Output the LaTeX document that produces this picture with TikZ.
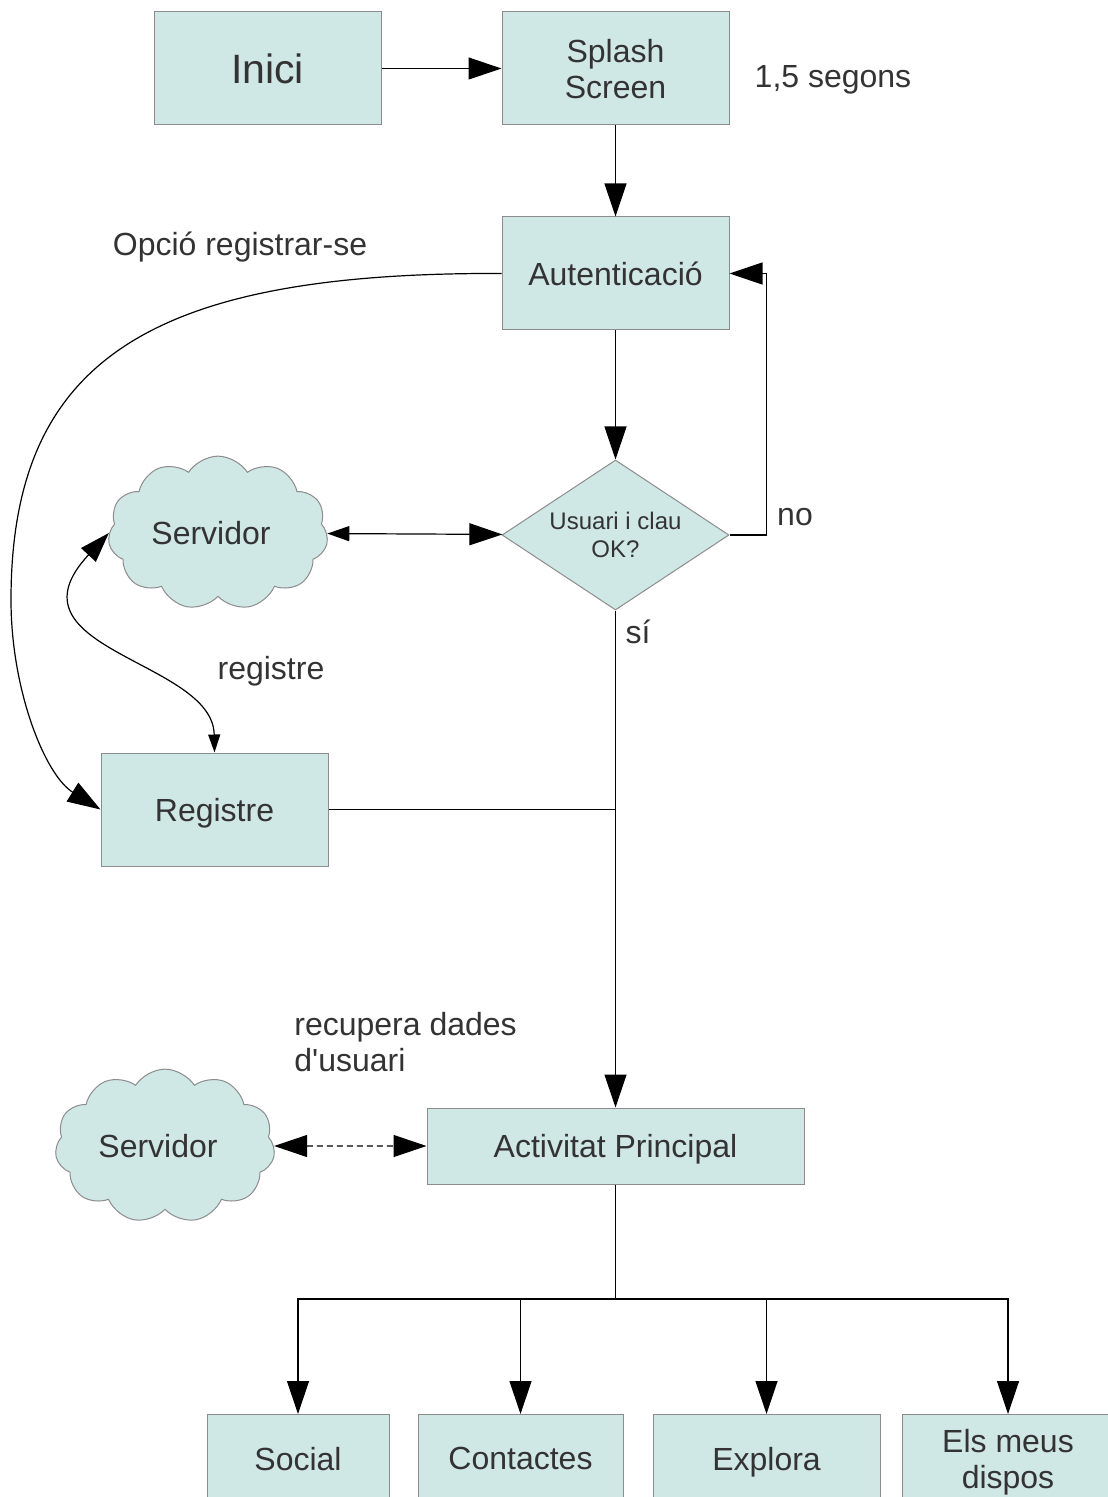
\documentclass[tikz,border=0pt]{standalone}
\usepackage{fontspec}
\setmainfont{Liberation Sans}
\usepackage{xcolor}
\definecolor{cFill}{HTML}{CFE7E5}
\definecolor{cEdge}{HTML}{8C8C8C}
\definecolor{cText}{HTML}{333333}
\usetikzlibrary{positioning,arrows.meta,shapes.geometric,shapes.symbols}
\tikzset{
  node-box/.style={draw=cEdge,fill=cFill,line width=0.5pt,inner sep=0pt,
    minimum width=113.5pt,minimum height=56.5pt,align=center,text=cText,
    text depth=0pt,font=\fontsize{16}{18}\selectfont},
  node-cloud/.style={cloud,cloud puffs=11,cloud puff arc=115,aspect=1.45,
    draw=cEdge,fill=cFill,line width=0.5pt,inner sep=0pt,
    minimum width=110pt,minimum height=76pt,text=cText,
    font=\fontsize{16}{18}\selectfont},
  node-dec/.style={diamond,aspect=1.51,draw=cEdge,fill=cFill,line width=0.5pt,
    inner sep=0pt,minimum width=113.5pt,minimum height=75pt,align=center,
    text=cText,font=\fontsize{12}{14}\selectfont},
  label-text/.style={text=cText,inner sep=0pt,align=left,
    font=\fontsize{16}{18}\selectfont},
  arrow/.style={-{Triangle[length=16.5pt,width=11pt]},line width=0.6pt},
  arrow-both/.style={{Triangle[length=16.5pt,width=11pt]}-{Triangle[length=16.5pt,width=11pt]},
    line width=0.6pt},
}

\begin{document}
\begin{tikzpicture}[x=0.5pt,y=-0.5pt,node distance=45.5pt and 60pt]
  \useasboundingbox (0,0) rectangle (1107,1497);
  % fil principal
  \node[node-box,font=\fontsize{20.5}{22}\selectfont] (inici) at (267.5,68.5) {Inici};
  \node[node-box,right=of inici] (splash) {Splash\\Screen};
  \node[node-box,below=of splash] (aut) {Autenticació};
  \node[node-dec,below=64.5pt of aut] (ok) {Usuari i clau\\OK?};
  \node[node-box] (reg) at (214.5,809.5) {Registre};
  \node[node-cloud] (srv1) at (218,533) {Servidor\hspace*{7pt}};
  \node[node-cloud] (srv2) at (165,1146) {Servidor\hspace*{7pt}};
  \node[node-box,minimum width=188.5pt,minimum height=38pt] (act) at (615.5,1146)
    {Activitat Principal};
  % pantalles finals
  \node[node-box,anchor=north,minimum width=91pt,minimum height=44pt]
    (social) at (298,1414) {Social};
  \node[node-box,anchor=north,minimum width=102.5pt,minimum height=44pt]
    (cont) at (520.5,1414) {Contactes};
  \node[node-box,anchor=north,minimum width=113.5pt,minimum height=44pt]
    (expl) at (766.5,1414) {Explora};
  \node[node-box,anchor=north,minimum width=106pt,minimum height=44pt]
    (dispos) at (1008,1414) {Els meus\\dispos};
  % etiquetes
  \node[label-text] (lbl-temps) at (833,80) {1,5 segons};
  \node[label-text] (lbl-opcio) at (240,247) {Opció registrar-se};
  \node[label-text] (lbl-reg) at (271,671) {registre};
  \node[label-text] (lbl-no) at (795,517) {no};
  \node[label-text] (lbl-si) at (638,632) {sí};
  \node[label-text,anchor=west] (lbl-dades) at (294,1042)
    {recupera dades\\d\textquotesingle usuari};
  % connexions
  \draw[arrow] (inici) -- (splash);
  \draw[arrow] (splash) -- (aut);
  \draw[arrow] (aut) -- (ok);
  \draw[arrow] (ok.east) -- ++(37,0) |- (aut.east);
  \draw[{Triangle[length=11pt,width=7.5pt]}-{Triangle[length=16.5pt,width=11pt]},
    line width=0.6pt] (srv1) -- (ok);
  \draw[arrow] (ok.south) -- (act.north);
  \draw[line width=0.6pt] (reg.east) -- (reg.east -| ok.south);
  \draw[arrow] (aut.west) .. controls (150,272) and (11,360) .. (11,600)
    .. controls (11,690) and (45,775) .. (reg.west);
  \draw[{Triangle[length=15pt,width=10pt]}-{Triangle[length=9pt,width=6pt]},
    line width=0.6pt] (srv1.west) .. controls (0,650) and (213,660) .. (reg.north);
  \draw[arrow-both,densely dashed] (srv2) -- (act);
  % bus cap a les pantalles
  \draw[line width=0.6pt] (act.south) -- (act.south |- 0,1299) coordinate (bus);
  \draw[arrow] (bus) -| (social.north);
  \draw[arrow] (bus) -| (cont.north);
  \draw[arrow] (bus) -| (expl.north);
  \draw[arrow] (bus) -| (dispos.north);
\end{tikzpicture}
\end{document}
